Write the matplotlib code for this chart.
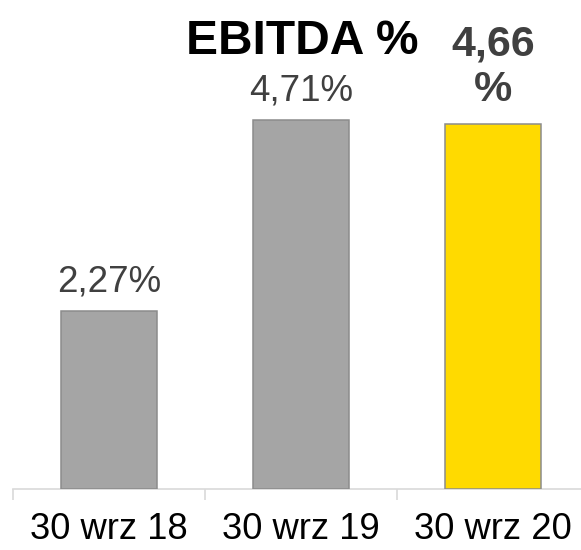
import matplotlib
matplotlib.use("Agg")
import matplotlib.pyplot as plt

categories = ["30 wrz 18", "30 wrz 19", "30 wrz 20"]
values = [2.27, 4.71, 4.66]
bar_colors = ["#A5A5A5", "#A5A5A5", "#FFDA00"]
title = "EBITDA %"

plt.rcParams['font.family'] = ['Liberation Sans', 'DejaVu Sans']

W, H = 581, 550
fig = plt.figure(figsize=(W / 100, H / 100), dpi=100)
ax = fig.add_axes([13 / W, (H - 489) / H, 576 / W, 429 / H])

x = list(range(len(categories)))
ax.bar(x, values, width=0.5, color=bar_colors, edgecolor="#8C8C8C", linewidth=1.1, zorder=3)
ax.set_xlim(-0.5, 2.5)
ax.set_ylim(0, 429 / 78.4)

for s in ["top", "right", "left"]:
    ax.spines[s].set_visible(False)
ax.spines["bottom"].set_color("#D9D9D9")
ax.spines["bottom"].set_linewidth(1.2)
ax.set_yticks([])
ax.set_xticks(x)
ax.set_xticklabels(categories, fontsize=26.2, color="black")
ax.tick_params(axis="x", which="major", length=0, pad=16.5)
ax.set_xticks([i - 0.5 for i in range(len(categories) + 1)], minor=True)
ax.tick_params(axis="x", which="minor", length=8, width=1.2, color="#D9D9D9")

def fmt(v):
    return f"{v:.2f}".replace(".", ",")

for i, v in enumerate(values):
    if i < len(values) - 1:
        ax.annotate(fmt(v) + "%", xy=(i, v), xytext=(0, 14), textcoords="offset points",
                    ha="center", va="baseline", fontsize=26.5, color="#404040")
    else:
        ax.annotate("%", xy=(i, v), xytext=(0, 16.5), textcoords="offset points",
                    ha="center", va="baseline", fontsize=31, fontweight="bold", color="#404040")
        ax.annotate(fmt(v), xy=(i, v), xytext=(0, 49), textcoords="offset points",
                    ha="center", va="baseline", fontsize=31, fontweight="bold", color="#404040")

fig.text(302 / W, 1 - 54 / H, title, ha="center", va="baseline", fontsize=34.5,
         fontweight="bold", color="black")

fig.savefig("out.png", dpi=100)
